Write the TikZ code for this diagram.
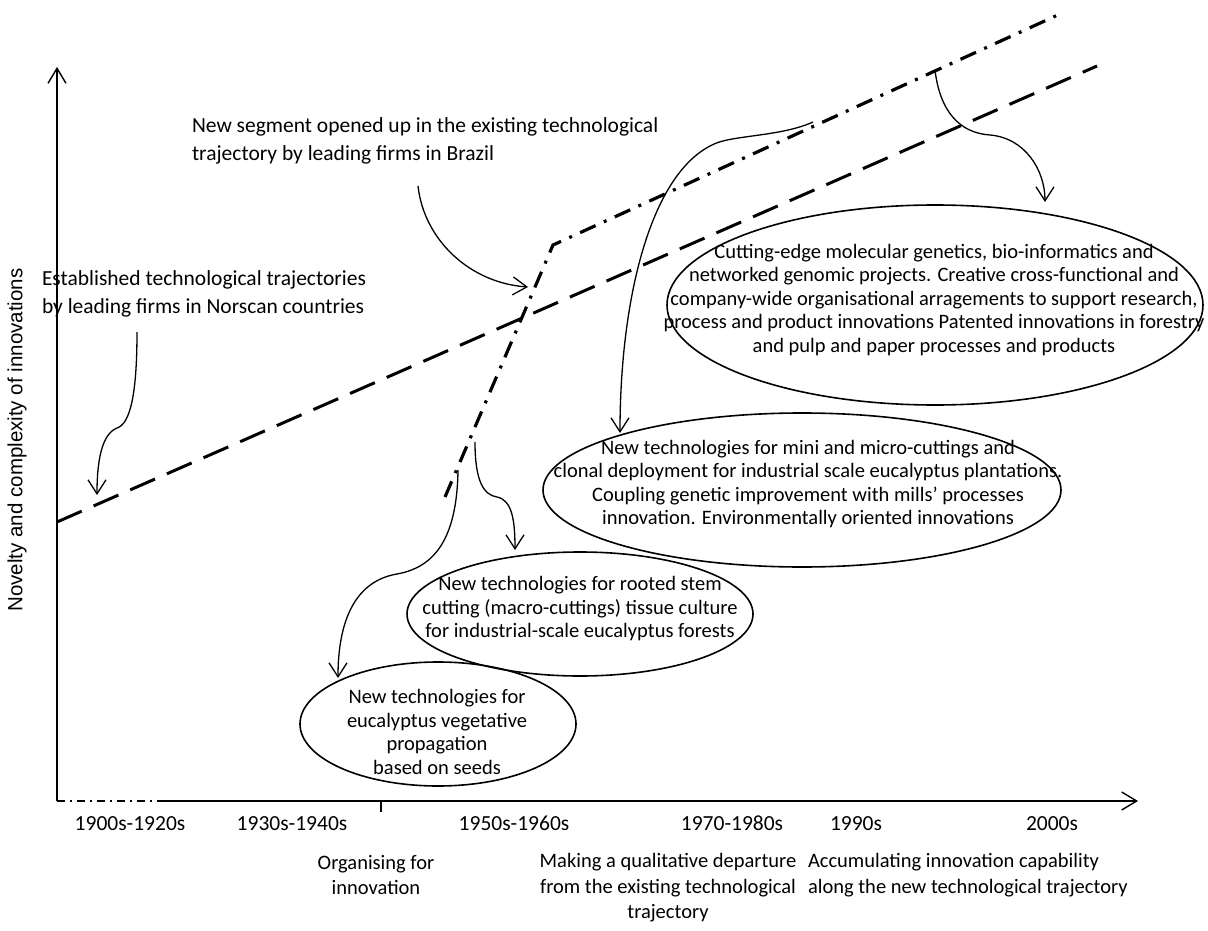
\documentclass[tikz,border=0pt]{standalone}
\usepackage{fontspec}
\setmainfont{Carlito}
\newfontfamily\arialf{Liberation Sans}
\usetikzlibrary{arrows.meta}
\begin{document}
\begin{tikzpicture}[x=1pt,y=-1pt,
  every node/.style={inner sep=0pt, outer sep=0pt},
  txt/.style={font=\fontsize{20.5}{23.5}\selectfont, align=center},
  yr/.style={font=\fontsize{21.5}{25.5}\selectfont, anchor=base},
  lbl/.style={font=\fontsize{20.5}{25.5}\selectfont},
  ann/.style={font=\fontsize{21.5}{28}\selectfont, align=left},
  axisln/.style={line width=1.6pt},
  barb/.style={-{Straight Barb[length=15pt,width=18pt,line width=1.4pt]}},
  curv/.style={line width=1.3pt, -{Straight Barb[length=14pt,width=18pt,line width=1.3pt]}},
  ell/.style={line width=1.6pt},
  longdash/.style={line width=3pt, dash pattern=on 27pt off 13pt},
  dashdotline/.style={line width=3.2pt, dash pattern=on 17pt off 9pt on 3pt off 9pt},
  thindashdot/.style={line width=1.5pt, dash pattern=on 8pt off 5pt on 2pt off 5pt},
]
\useasboundingbox (0,0) rectangle (1208,931);

% axes
\coordinate (o) at (57,801);
\coordinate (ytip) at (57,67);
\coordinate (xs) at (157,801);
\coordinate (xtip) at (1138,801);
\draw[axisln,barb] (o) -- (ytip);
\draw[axisln,barb] (xs) -- (xtip);
\draw[thindashdot] (o) -- (xs);
\coordinate (tk1) at (381,801);
\coordinate (tk2) at (381,812);
\draw[axisln] (tk1) -- (tk2);

\node[rotate=90, font=\arialf\fontsize{20.5}{24}\selectfont] (ylab) at (17,440) {Novelty and complexity of innovations};

% year labels
\node[yr] (y1) at (130,830) {1900s-1920s};
\node[yr] (y2) at (292,830) {1930s-1940s};
\node[yr] (y3) at (514,830) {1950s-1960s};
\node[yr] (y4) at (732,830) {1970-1980s};
\node[yr] (y5) at (856,830) {1990s};
\node[yr] (y6) at (1052,830) {2000s};

% phase labels
\node[lbl, align=center] (ph1) at (376,875) {Organising for\\innovation};
\node[lbl, align=center] (ph2) at (668,888) {Making a qualitative departure\\from the existing technological\\trajectory};
\node[lbl, align=left, anchor=west] (ph3) at (808,875) {Accumulating innovation capability\\along the new technological trajectory};

% trajectories
\coordinate (d0) at (57,522);
\coordinate (d1) at (1097,66);
\draw[longdash] (d0) -- (d1);
\coordinate (b0) at (445,497);
\coordinate (b1) at (553,245);
\coordinate (b2) at (1060,14);
\draw[dashdotline] (b0) -- (b1) -- (b2);

% annotations
\node[ann, anchor=north west] (seg) at (192,118) {New segment opened up in the existing technological\\trajectory by leading firms in Brazil};
\node[ann, anchor=north west] (est) at (42,271) {Established technological trajectories\\by leading firms in Norscan countries};

% ellipses
\coordinate (c1) at (438,724);
\draw[ell] (c1) ellipse [x radius=138pt, y radius=62pt];
\node[txt] (t1) at (437,732) {New technologies for\\eucalyptus vegetative\\propagation\\based on seeds};

\coordinate (c2) at (580,614);
\draw[ell] (c2) ellipse [x radius=173pt, y radius=62pt];
\node[txt] (t2) at (580,609) {New technologies for rooted stem\\cutting (macro-cuttings) tissue culture\\for industrial-scale eucalyptus forests};

\coordinate (c3) at (802,490);
\draw[ell] (c3) ellipse [x radius=259pt, y radius=77pt];
\node[txt] (t3) at (808,484) {New technologies for mini and micro-cuttings and\\clonal deployment for industrial scale eucalyptus plantations.\\Coupling genetic improvement with mills’ processes\\innovation. Environmentally oriented innovations};

\coordinate (c4) at (935,305);
\draw[ell] (c4) ellipse [x radius=268pt, y radius=100pt];
\node[txt] (t4) at (934,300) {Cutting-edge molecular genetics, bio-informatics and\\networked genomic projects. Creative cross-functional and\\company-wide organisational arragements to support research,\\process and product innovations Patented innovations in forestry\\and pulp and paper processes and products};

% curved arrows
\coordinate (aAs) at (418,186);
\coordinate (aAe) at (528,287);
\draw[curv] (aAs) .. controls (424,240) and (470,283) .. (aAe);

\coordinate (aBs) at (137,332);
\coordinate (aBm) at (117,428);
\coordinate (aBe) at (97,495);
\draw[curv] (aBs) .. controls (137,395) and (130,424) .. (aBm) .. controls (102,434) and (97,460) .. (aBe);

\coordinate (a1s) at (458,470);
\coordinate (a1m) at (397,574);
\coordinate (a1e) at (338,678);
\draw[curv] (a1s) .. controls (457,545) and (430,568) .. (a1m) .. controls (350,582) and (338,630) .. (a1e);

\coordinate (a2s) at (475,442);
\coordinate (a2m) at (497,497);
\coordinate (a2e) at (515,550);
\draw[curv] (a2s) .. controls (475,482) and (484,495) .. (a2m) .. controls (512,500) and (515,520) .. (a2e);

\coordinate (a3s) at (813,122);
\coordinate (a3m) at (712,145);
\coordinate (a3e) at (620,433);
\draw[curv] (a3s) .. controls (780,137) and (730,135) .. (a3m) .. controls (650,175) and (620,300) .. (a3e);

\coordinate (a4s) at (935,70);
\coordinate (a4m) at (990,135);
\coordinate (a4e) at (1045,202);
\draw[curv] (a4s) .. controls (940,112) and (960,133) .. (a4m) .. controls (1025,138) and (1045,170) .. (a4e);
\end{tikzpicture}
\end{document}
